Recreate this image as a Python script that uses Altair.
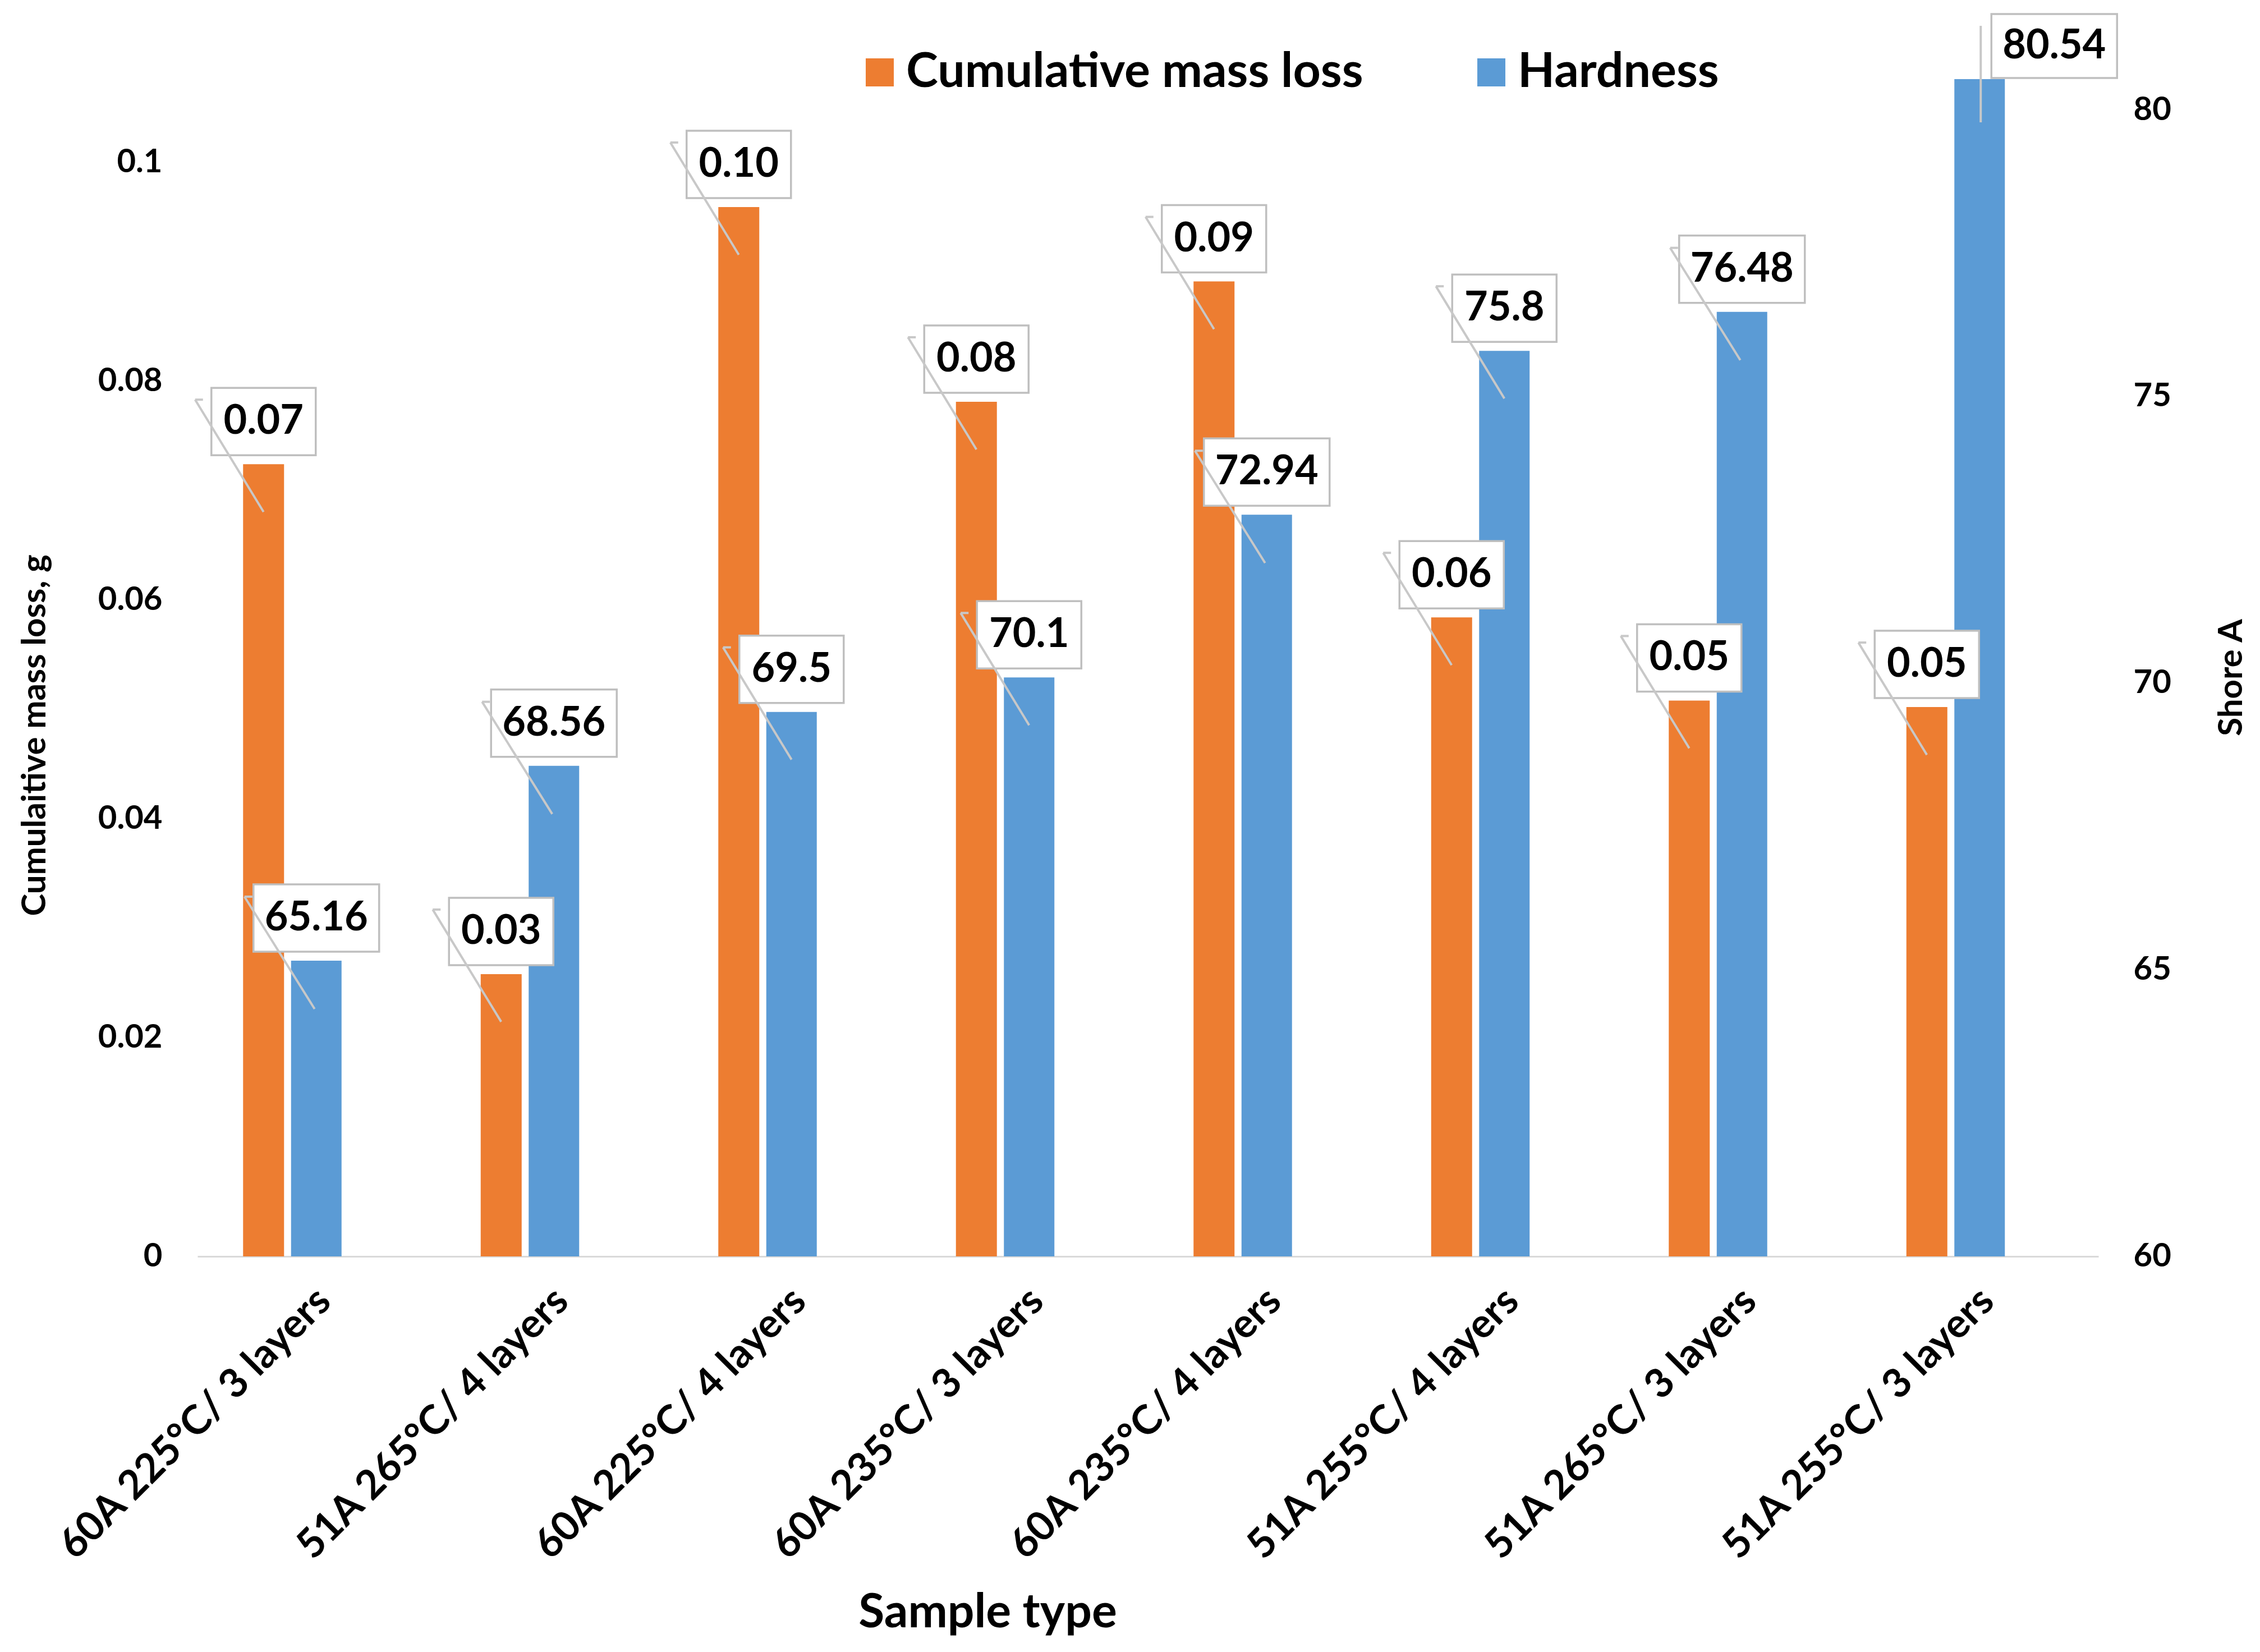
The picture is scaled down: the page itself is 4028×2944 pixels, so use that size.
import altair as alt
import pandas as pd

CATS = [
    "60A 225°C/ 3 layers",
    "51A 265°C/ 4 layers",
    "60A 225°C/ 4 layers",
    "60A 235°C/ 3 layers",
    "60A 235°C/ 4 layers",
    "51A 255°C/ 4 layers",
    "51A 265°C/ 3 layers",
    "51A 255°C/ 3 layers",
]
MASS_LOSS = [0.0724, 0.0258, 0.0959, 0.0781, 0.0891, 0.0584, 0.0508, 0.0502]
HARDNESS = [65.16, 68.56, 69.5, 70.1, 72.94, 75.8, 76.48, 80.54]
LEFT_TICKS = [0, 0.02, 0.04, 0.06, 0.08, 0.1]
RIGHT_TICKS = [60, 65, 70, 75, 80]
SERIES = ["Cumulative mass loss", "Hardness"]
COLORS = ["#ED7D31", "#5B9BD5"]

FONT = "Lato"
df = pd.DataFrame({"cat": CATS, "mass": MASS_LOSS, "hard": HARDNESS})
base = alt.Chart(df)

x_axis = alt.Axis(
    title="Sample type", labelAngle=-45, labelAlign="right", labelBaseline="middle",
    labelFontSize=72, labelFont=FONT, labelFontWeight="bold", labelColor="black",
    labelPadding=68, labelOffset=14, labelLimit=0, ticks=False, domainColor="#D9D9D9",
    domainWidth=3,
    titleFontSize=84, titleFont=FONT, titleFontWeight="bold", titleColor="black",
    titleX=1408, titleY=635, titleAlign="center", titleBaseline="middle", titleAnchor="start",
)
x_scale = alt.Scale(paddingInner=0, paddingOuter=0)
x_enc = alt.X("cat:N", sort=CATS, scale=x_scale, axis=x_axis)
x_rule = alt.X("cat:N", sort=CATS, scale=x_scale, axis=x_axis, bandPosition=0.5)
x2_rule = alt.X2("cat", bandPosition=0.5)

yL = alt.Scale(domain=[0, 0.11], nice=False, zero=True)
yR = alt.Scale(domain=[60, 81], nice=False, zero=False)

axL = alt.Axis(
    orient="left", values=LEFT_TICKS, format="~g", domain=False, ticks=False, grid=False,
    labelFontSize=58, labelFont=FONT, labelFontWeight="bold", labelColor="black", labelPadding=63,
    title="Cumulaitive mass loss, g", titleFontSize=60, titleFont=FONT, titleFontWeight="bold",
    titleColor="black", titleAngle=270, titleX=-290, titleY=1216, titleAlign="center",
    titleBaseline="middle", titleAnchor="start",
)
axR = alt.Axis(
    orient="right", values=RIGHT_TICKS, domain=False, ticks=False, grid=False,
    labelFontSize=58, labelFont=FONT, labelFontWeight="bold", labelColor="black", labelPadding=62,
    title="Shore A", titleFontSize=60, titleFont=FONT, titleFontWeight="bold",
    titleColor="black", titleAngle=270, titleX=237, titleY=1113, titleAlign="center",
    titleBaseline="middle", titleAnchor="start",
)

cscale = alt.Scale(domain=SERIES, range=COLORS)
legend = alt.Legend(
    title=None, orient="none", direction="horizontal", legendX=1173, legendY=-8,
    symbolType="square", symbolSize=2500, symbolStrokeWidth=0, labelFontSize=86,
    labelFont=FONT, labelFontWeight="bold", labelColor="black", labelOffset=4,
    labelLimit=0, columnPadding=185, padding=0,
)

O_OFF = -94
B_OFF = 0
BOX_COLOR = "#BFBFBF"
LINE_COLOR = "#C8C8C8"

bars_o = base.transform_calculate(series="'Cumulative mass loss'").mark_bar(
    width=73, xOffset=O_OFF
).encode(
    x=x_enc,
    y=alt.Y("mass:Q", scale=yL, axis=axL),
    color=alt.Color("series:N", scale=cscale, legend=legend),
)

bars_b = base.transform_calculate(series="'Hardness'").mark_bar(
    width=90, xOffset=B_OFF
).encode(
    x=x_enc,
    y=alt.Y("hard:Q", scale=yR, axis=axR),
    y2=alt.Y2(datum=60),
    color=alt.Color("series:N", scale=cscale, legend=legend),
)


def label_layers(src, field, scale, xoff, box_w, fmt_text, dx_box=0, box_top=-136,
                 box_bot=-16, line=(0, 85, -122, -115), tick=True):
    yenc = alt.Y(f"{field}:Q", scale=scale, axis=None)
    box = src.mark_bar(
        width=box_w, xOffset=xoff + dx_box, yOffset=box_top, y2Offset=box_bot,
        fill="white", stroke=BOX_COLOR, strokeWidth=3.5,
    ).encode(x=x_enc, y=yenc, y2=alt.Y2(field))
    txt = src.mark_text(
        xOffset=xoff + dx_box, yOffset=(box_top + box_bot) / 2, font=FONT, fontSize=72,
        fontWeight="bold", color="black", align="center", baseline="middle",
    ).encode(x=x_enc, y=yenc, text=fmt_text)
    x1, y1, x2, y2 = line
    lead = src.mark_rule(
        xOffset=xoff + x1, x2Offset=xoff + x2, yOffset=y1, y2Offset=y2,
        color=LINE_COLOR, strokeWidth=4,
    ).encode(x=x_rule, x2=x2_rule, y=yenc, y2=alt.Y2(field))
    layers = [box, txt, lead]
    if tick:
        tk = src.mark_rule(
            xOffset=xoff + x2, x2Offset=xoff + x2 + 14, yOffset=y2, y2Offset=y2,
            color=LINE_COLOR, strokeWidth=4,
        ).encode(x=x_rule, x2=x2_rule, y=yenc, y2=alt.Y2(field))
        layers.append(tk)
    return layers


lab_o = alt.layer(*label_layers(
    base, "mass", yL, O_OFF, 186, alt.Text("mass:Q", format=".2f")
))

blue_src = base.transform_calculate(lab="format(datum.hard, '~r')")
blue_txt = alt.Text("lab:N")
lab_b = alt.layer(
    *label_layers(blue_src.transform_filter("length(datum.lab) == 4 && datum.hard <= 80"),
                  "hard", yR, B_OFF, 186, blue_txt),
    *label_layers(blue_src.transform_filter("length(datum.lab) == 5 && datum.hard <= 80"),
                  "hard", yR, B_OFF, 224, blue_txt, line=(-3, 86, -128, -114)),
    *label_layers(blue_src.transform_filter("datum.hard > 80"),
                  "hard", yR, B_OFF, 224, blue_txt, dx_box=133, box_top=-116, box_bot=-2,
                  line=(2, 77, 2, -95), tick=False),
)

chart = alt.layer(bars_o, bars_b, lab_o, lab_b).resolve_scale(
    y="independent"
).properties(
    width=3388, height=2145,
    autosize=alt.AutoSizeParams(type="none"),
    padding={"left": 344, "top": 86, "right": 280, "bottom": 697},
).configure_view(stroke=None)

chart.save("out.html", embed_options={"renderer": "svg", "actions": False})
